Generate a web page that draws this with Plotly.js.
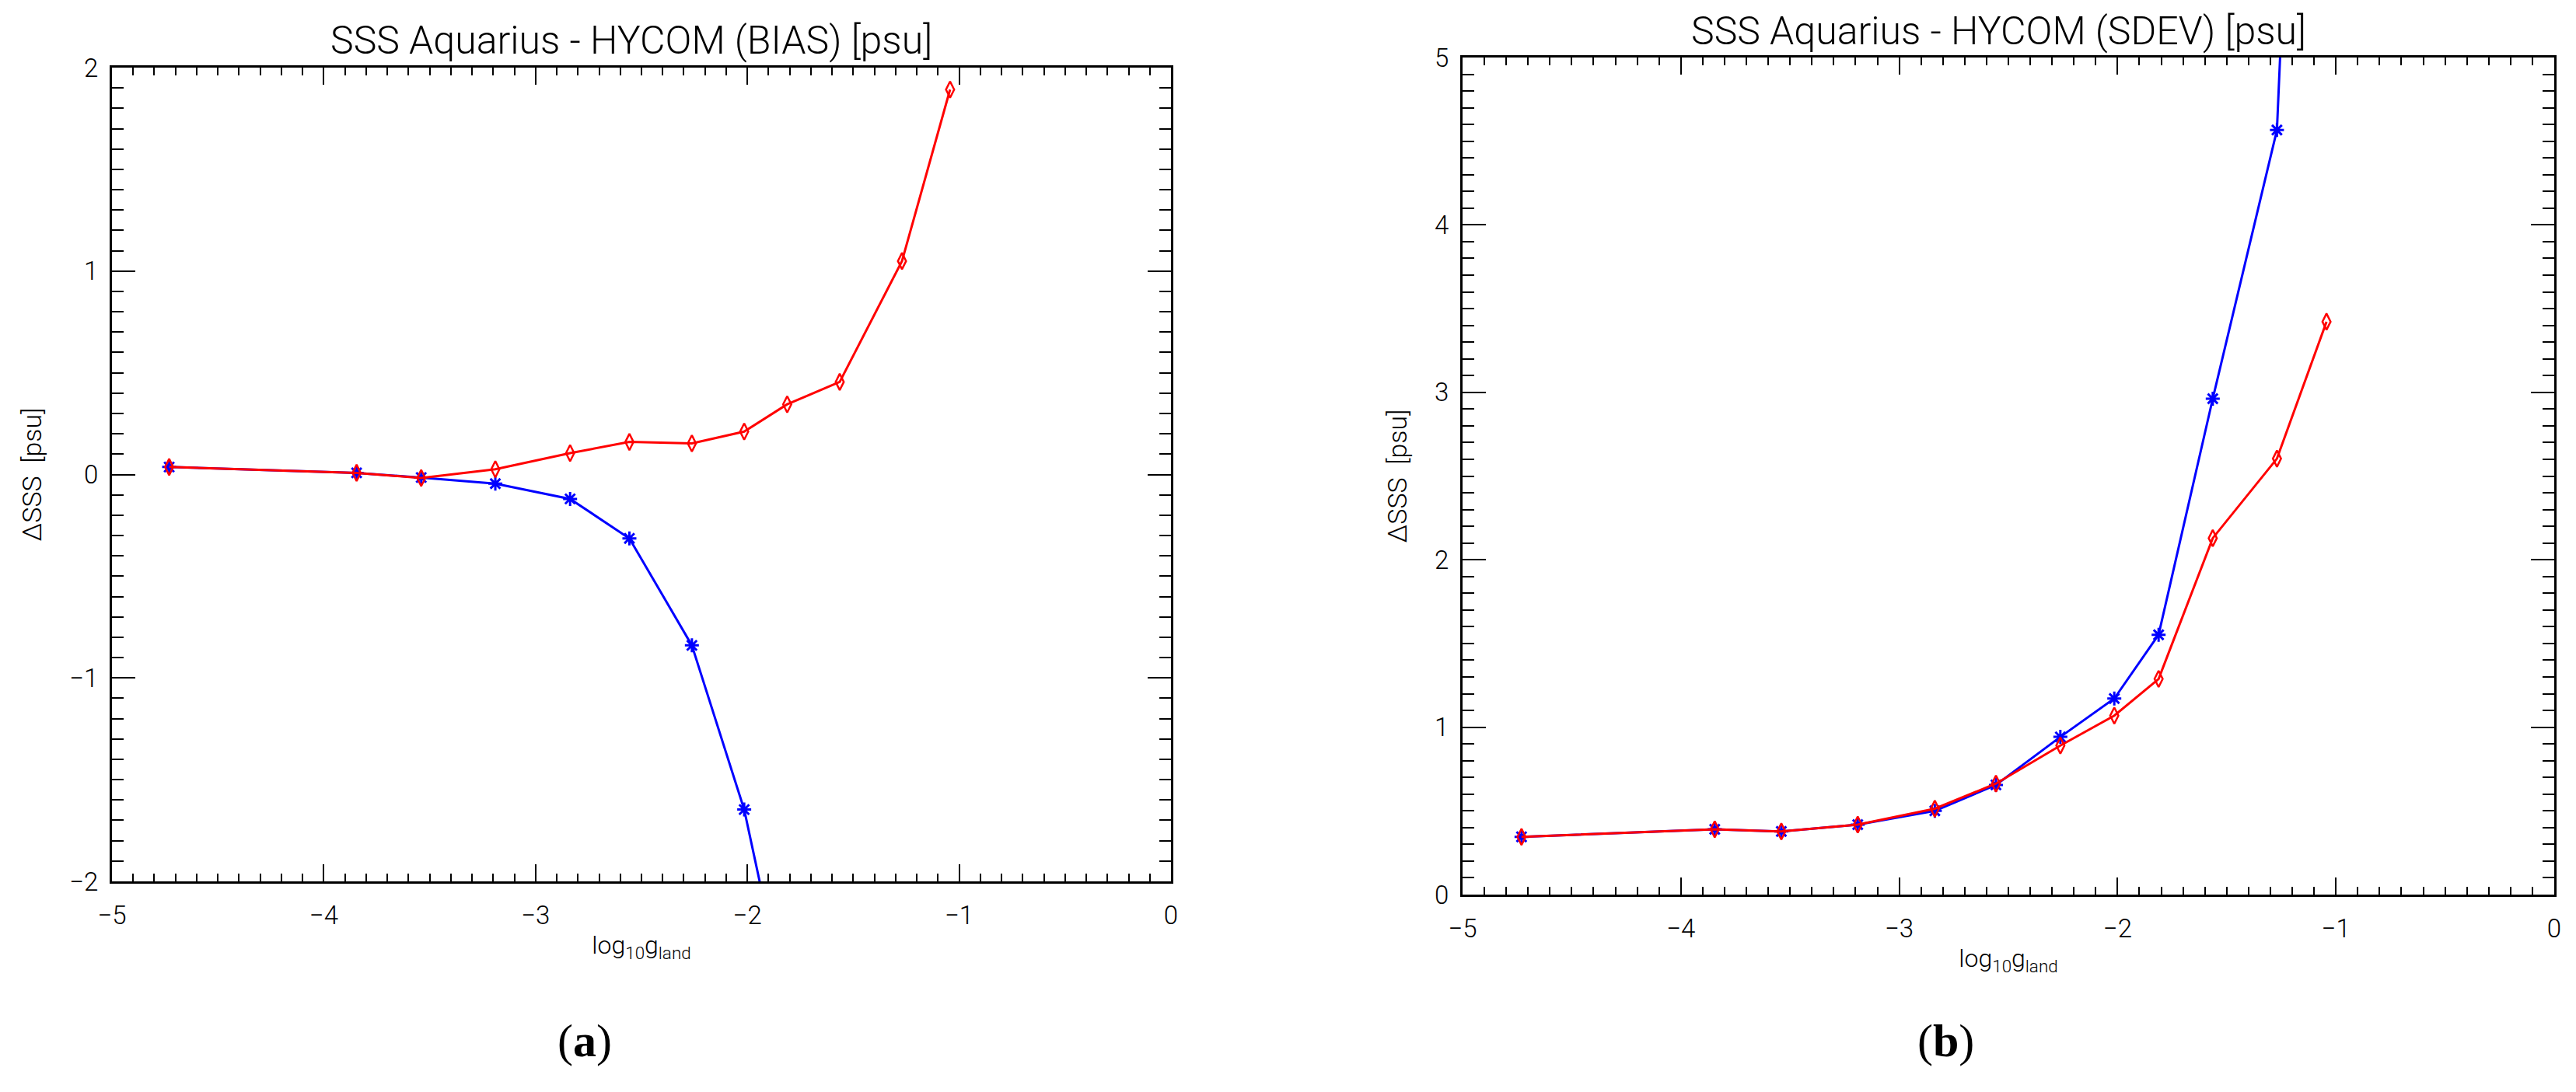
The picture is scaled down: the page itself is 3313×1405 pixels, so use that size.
<!DOCTYPE html>
<html>
<head>
<meta charset="utf-8">
<script src="https://cdn.plot.ly/plotly-3.0.1.min.js"></script>
<style>
html,body{margin:0;padding:0;background:#fff;}
#chart{width:3313px;height:1405px;}
</style>
</head>
<body>
<div id="chart"></div>
<script>
// log10 g_land bins (shared by both panels)
const logG = [-4.73, -3.845, -3.54, -3.19, -2.837, -2.557, -2.262, -2.015, -1.812, -1.564, -1.27, -1.043];

// Panel (a): BIAS [psu]
const biasRed  = [0.037, 0.008, -0.017, 0.026, 0.105, 0.160, 0.153, 0.211, 0.345, 0.455, 1.049, 1.892];
const biasBlue = [0.037, 0.008, -0.015, -0.045, -0.120, -0.314, -0.840, -1.647, -2.63];

// Panel (b): SDEV [psu]
const sdevRed  = [0.345, 0.390, 0.377, 0.418, 0.513, 0.663, 0.890, 1.069, 1.288, 2.129, 2.604, 3.422];
const sdevBlue = [0.345, 0.390, 0.377, 0.418, 0.500, 0.655, 0.942, 1.171, 1.552, 2.962, 4.567, 11.4];

const titleA = 'SSS Aquarius - HYCOM (BIAS) [psu]';
const titleB = 'SSS Aquarius - HYCOM (SDEV) [psu]';
const xTitle = 'log<sub>10</sub>g<sub>land</sub>';
const yTitle = 'ΔSSS  [psu]';
const panelLabels = ['(<b>a</b>)', '(<b>b</b>)'];

const FONT = 'Roboto, "Liberation Sans", "DejaVu Sans", sans-serif';
const RED = '#ff0000', BLUE = '#0000ff';

function blueTrace(x, y, xa, ya) {
  return {x: x, y: y, xaxis: xa, yaxis: ya, type: 'scatter', mode: 'lines+markers',
    line: {color: BLUE, width: 3},
    marker: {symbol: 'asterisk-open', size: 15, color: BLUE, line: {color: BLUE, width: 3}},
    cliponaxis: true, showlegend: false, hoverinfo: 'x+y'};
}
function redTrace(x, y, xa, ya) {
  return {x: x, y: y, xaxis: xa, yaxis: ya, type: 'scatter', mode: 'lines+markers',
    line: {color: RED, width: 3},
    marker: {symbol: 'diamond-tall-open', size: 15, color: RED, line: {color: RED, width: 2.5}},
    cliponaxis: true, showlegend: false, hoverinfo: 'x+y'};
}

const data = [
  blueTrace(logG.slice(0, biasBlue.length), biasBlue, 'x', 'y'),
  redTrace(logG, biasRed, 'x', 'y'),
  blueTrace(logG, sdevBlue, 'x2', 'y2'),
  redTrace(logG, sdevRed, 'x2', 'y2')
];

function xAxis(domain, anchor) {
  return {
    domain: domain, anchor: anchor, range: [-5, 0], autorange: false,
    tickmode: 'linear', tick0: -5, dtick: 1,
    ticks: 'inside', ticklen: 22, tickwidth: 2, tickcolor: '#000',
    minor: {ticks: 'inside', ticklen: 10, tickwidth: 2, tickcolor: '#000', dtick: 0.1, tick0: -5, showgrid: false},
    showline: true, linecolor: '#000', linewidth: 3, mirror: 'allticks',
    showgrid: false, zeroline: false,
    ticklabelstandoff: 12,
    tickfont: {family: FONT, size: 33, color: '#000', weight: 300},
    title: {text: xTitle, standoff: 10, font: {family: FONT, size: 32, color: '#000', weight: 300}}
  };
}
function yAxis(domain, anchor, range) {
  return {
    domain: domain, anchor: anchor, range: range, autorange: false,
    tickmode: 'linear', tick0: 0, dtick: 1,
    ticks: 'inside', ticklen: 30, tickwidth: 2, tickcolor: '#000',
    minor: {ticks: 'inside', ticklen: 15, tickwidth: 2, tickcolor: '#000', dtick: 0.1, tick0: 0, showgrid: false},
    showline: true, linecolor: '#000', linewidth: 3, mirror: 'allticks',
    showgrid: false, zeroline: false,
    ticklabelstandoff: 8,
    tickfont: {family: FONT, size: 33, color: '#000', weight: 300},
    title: {text: yTitle, standoff: 26, font: {family: FONT, size: 34, color: '#000', weight: 300}}
  };
}

const W = 3313, H = 1405;
const layout = {
  width: W, height: H,
  margin: {l: 0, r: 0, t: 0, b: 0},
  paper_bgcolor: '#fff', plot_bgcolor: '#fff',
  showlegend: false,
  xaxis: xAxis([144 / W, 1506 / W], 'y'),
  yaxis: yAxis([(H - 1134) / H, (H - 87) / H], 'x', [-2, 2]),
  xaxis2: xAxis([1881 / W, 3285 / W], 'y2'),
  yaxis2: yAxis([(H - 1151) / H, (H - 74) / H], 'x2', [0, 5]),
  annotations: [
    {text: titleA, xref: 'paper', yref: 'paper', x: 812 / W, y: (H - 52) / H,
     xanchor: 'center', yanchor: 'middle', showarrow: false,
     font: {family: FONT, size: 50, color: '#000', weight: 300}},
    {text: titleB, xref: 'paper', yref: 'paper', x: 2570 / W, y: (H - 40) / H,
     xanchor: 'center', yanchor: 'middle', showarrow: false,
     font: {family: FONT, size: 50, color: '#000', weight: 300}},
    {text: panelLabels[0], xref: 'paper', yref: 'paper', x: 752 / W, y: (H - 1339) / H,
     xanchor: 'center', yanchor: 'middle', showarrow: false,
     font: {family: '"Liberation Serif", "DejaVu Serif", serif', size: 60, color: '#000'}},
    {text: panelLabels[1], xref: 'paper', yref: 'paper', x: 2502 / W, y: (H - 1339) / H,
     xanchor: 'center', yanchor: 'middle', showarrow: false,
     font: {family: '"Liberation Serif", "DejaVu Serif", serif', size: 60, color: '#000'}}
  ]
};

Plotly.newPlot('chart', data, layout, {displayModeBar: false, staticPlot: true});
</script>
</body>
</html>
